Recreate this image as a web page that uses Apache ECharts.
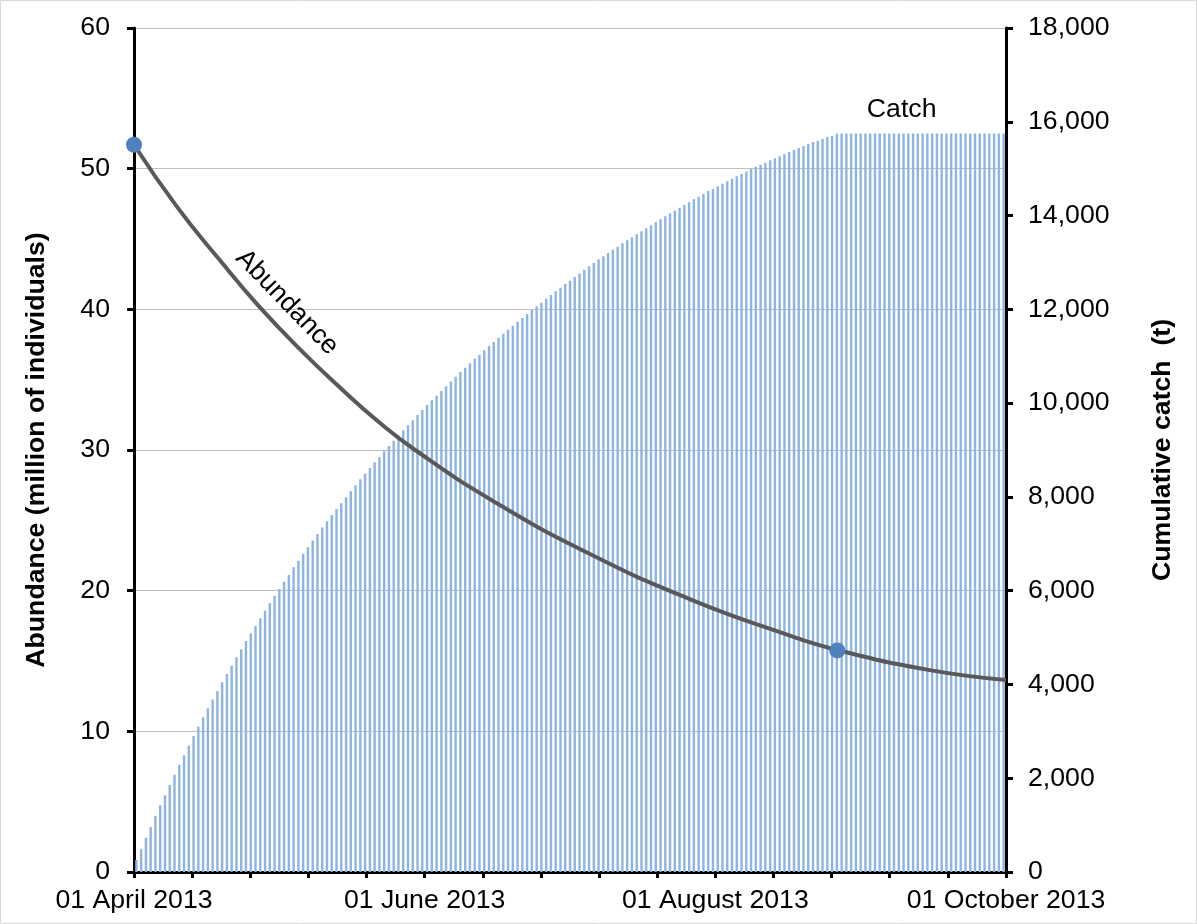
<!DOCTYPE html>
<html>
<head>
<meta charset="utf-8">
<script src="https://cdn.jsdelivr.net/npm/echarts@6/dist/echarts.min.js"></script>
<style>
html,body{margin:0;padding:0;background:#fff;}
#chart{width:1197px;height:924px;}
</style>
</head>
<body>
<div id="chart"></div>
<script>
// ---- data ----
// x axis: days since 01 April 2013
const xLabelDays = [0, 61, 122, 183];
const xLabelTexts = ['01 April 2013', '01 June 2013', '01 August 2013', '01 October 2013'];

// cumulative catch (t), one bar per day starting 01 April 2013
const catchValues = [
  256, 490, 731, 960, 1194, 1422, 1635, 1855, 2075, 2282,
  2489, 2694, 2900, 3099, 3299, 3490, 3680, 3860, 4046, 4223,
  4400, 4579, 4749, 4927, 5090, 5246, 5410, 5573, 5730, 5893,
  6036, 6192, 6334, 6498, 6640, 6785, 6928, 7070, 7210, 7348,
  7482, 7614, 7742, 7863, 7991, 8119, 8247, 8375, 8495, 8616,
  8737, 8851, 8972, 9085, 9199, 9305, 9420, 9526, 9633, 9747,
  9853, 9960, 10060, 10158, 10258, 10360, 10462, 10563, 10664, 10755,
  10848, 10947, 11032, 11126, 11218, 11303, 11395, 11480, 11565, 11651,
  11736, 11815, 11900, 11986, 12065, 12141, 12227, 12306, 12384, 12461,
  12540, 12611, 12690, 12765, 12845, 12917, 12988, 13067, 13131, 13201,
  13272, 13336, 13408, 13472, 13536, 13600, 13664, 13728, 13792, 13856,
  13920, 13984, 14048, 14104, 14161, 14225, 14283, 14347, 14402, 14460,
  14524, 14567, 14624, 14680, 14730, 14786, 14837, 14886, 14936, 14993,
  15036, 15085, 15128, 15178, 15221, 15264, 15306, 15355, 15398, 15441,
  15483, 15526, 15569, 15597, 15633, 15676, 15704, 15750, 15750, 15750,
  15750, 15750, 15750, 15750, 15750, 15750, 15750, 15750, 15750, 15750,
  15750, 15750, 15750, 15750, 15750, 15750, 15750, 15750, 15750, 15750,
  15750, 15750, 15750, 15750, 15750, 15750, 15750, 15750, 15750, 15750,
  15750, 15750, 15750
];

// abundance (million of individuals)
const abundanceDays = [0, 9, 18, 26, 35, 44, 51, 59, 75, 96, 117, 136, 148, 167, 183];
const abundanceValues = [51.7, 47.3, 43.5, 40.3, 37.1, 34.2, 32.1, 30.0, 26.45, 22.55, 19.35, 17.0, 15.75, 14.35, 13.65];

// highlighted points on the abundance curve
const markerDays = [0, 147.6];
const markerValues = [51.7, 15.75];

// in-chart labels
const annotationTexts = ['Abundance', 'Catch'];

// ---- chart ----
const FONT = "'Liberation Sans', Arial, sans-serif";
const FS = 26.67;
const chart = echarts.init(document.getElementById('chart'), null, {renderer: 'canvas'});

const barData = catchValues.map((v, i) => [i + 0.5, v]);
const lineData = abundanceDays.map((d, i) => [d, abundanceValues[i]]);
const markerData = markerDays.map((d, i) => [d, markerValues[i]]);

const option = {
  backgroundColor: '#fff',
  animation: false,
  textStyle: {fontFamily: FONT},
  grid: {left: 134, right: 191, top: 28, bottom: 52, containLabel: false},
  xAxis: {
    type: 'value', min: 0, max: 183, interval: 12.2,
    axisLine: {show: true, onZero: false, lineStyle: {color: '#000', width: 3}},
    axisTick: {show: true, length: 6, lineStyle: {color: '#000', width: 3}},
    splitLine: {show: false},
    axisLabel: {
      margin: 15, color: '#000', fontSize: FS, fontFamily: FONT,
      showMinLabel: true, showMaxLabel: true,
      formatter: function (v) {
        const k = xLabelDays.findIndex(d => Math.abs(d - v) < 0.01);
        return k >= 0 ? xLabelTexts[k] : '';
      }
    }
  },
  yAxis: [{
    type: 'value', min: 0, max: 60, interval: 10, position: 'left',
    name: 'Abundance (million of individuals)', nameLocation: 'middle', nameRotate: 90, nameGap: 84,
    nameTextStyle: {color: '#000', fontSize: FS, fontWeight: 'bold', fontFamily: FONT},
    axisLine: {show: true, lineStyle: {color: '#000', width: 3}},
    axisTick: {show: true, length: 7, lineStyle: {color: '#000', width: 3}},
    splitLine: {show: true, lineStyle: {color: '#BFBFBF', width: 1}},
    axisLabel: {margin: 24, color: '#000', fontSize: FS, fontFamily: FONT}
  }, {
    type: 'value', min: 0, max: 18000, interval: 2000, position: 'right',
    name: 'Cumulative catch  (t)', nameLocation: 'middle', nameRotate: 90, nameGap: 143,
    nameTextStyle: {color: '#000', fontSize: FS, fontWeight: 'bold', fontFamily: FONT},
    axisLine: {show: true, lineStyle: {color: '#000', width: 3}},
    axisTick: {show: true, length: 7, lineStyle: {color: '#000', width: 3}},
    splitLine: {show: false},
    axisLabel: {
      margin: 22, color: '#000', fontSize: FS, fontFamily: FONT,
      formatter: v => Number(v).toLocaleString('en-US')
    }
  }],
  series: [{
    name: 'Catch', type: 'bar', yAxisIndex: 1, barWidth: 2.4,
    itemStyle: {color: '#8EB4E3'},
    data: barData, z: 1
  }, {
    name: 'Abundance', type: 'line', yAxisIndex: 0, smooth: 0.5,
    showSymbol: false, symbol: 'none',
    lineStyle: {color: '#595959', width: 4},
    data: lineData, z: 3
  }, {
    name: 'markers', type: 'scatter', yAxisIndex: 0, symbol: 'circle', symbolSize: 16,
    itemStyle: {color: '#4F81BD', opacity: 1},
    data: markerData, z: 4
  }]
};
chart.setOption(option);

// in-chart text labels anchored to data coordinates
const anchors = [[32.1, 40.5], [161.1, 54.2]];
const rotations = [-46, 0];
const pts = anchors.map(a => chart.convertToPixel({xAxisIndex: 0, yAxisIndex: 0}, a));
chart.setOption({
  graphic: [{
    type: 'rect', silent: true, z: 0,
    shape: {x: 0.5, y: 0.5, width: 1196, height: 923},
    style: {fill: 'none', stroke: '#D9D9D9', lineWidth: 1}
  }].concat(pts.map((p, i) => ({
    type: 'text', silent: true, z: 10,
    x: p[0], y: p[1], rotation: rotations[i] * Math.PI / 180,
    style: {text: annotationTexts[i], fill: '#000', font: FS + 'px ' + FONT, align: 'center', verticalAlign: 'middle'}
  })))
});
</script>
</body>
</html>
